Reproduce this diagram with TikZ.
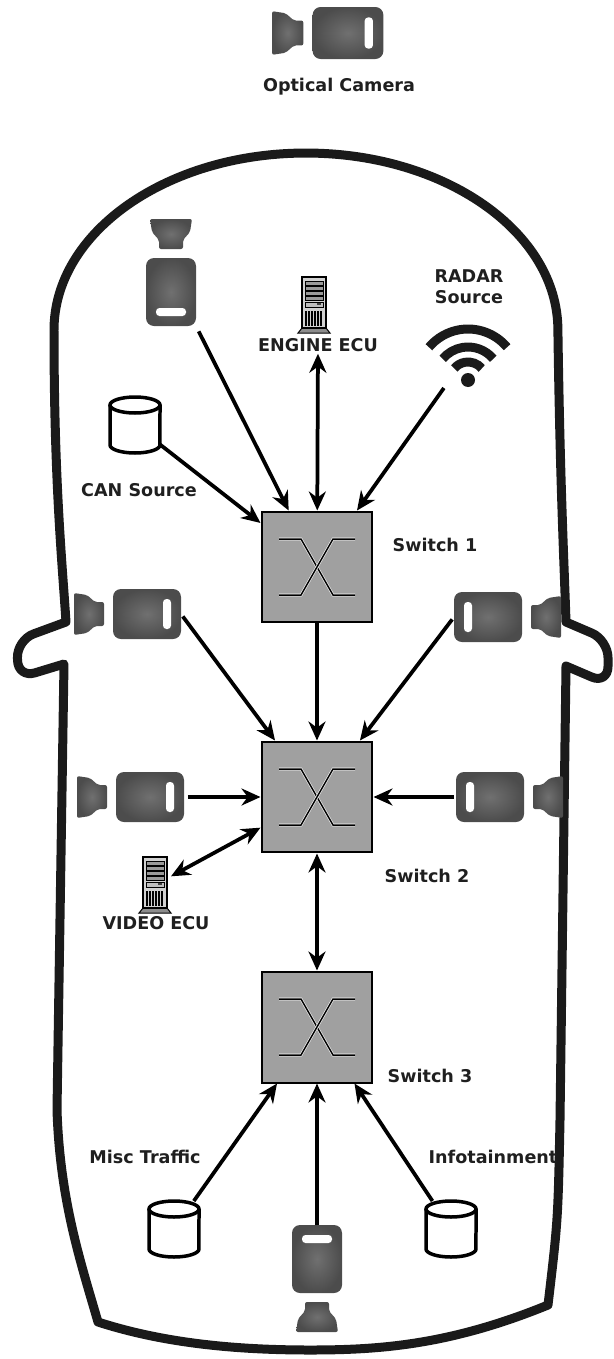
\documentclass[tikz,border=0pt]{standalone}
\usepackage{fontspec}
\setmainfont{DejaVu Sans}
\usetikzlibrary{arrows.meta,positioning}

\definecolor{shellblack}{RGB}{26,26,26}
\definecolor{camdark}{RGB}{76,76,76}
\definecolor{camlight}{RGB}{112,112,112}
\definecolor{swgray}{RGB}{160,160,160}

\tikzset{
  % video camera, lens pointing left
  camera/.pic={
    \shade[inner color=camlight, outer color=camdark, rounded corners=0.04cm]
      (-73,-21) -- (-60,-19) -- (-52,-12) -- (-43,-12) -- (-43,12) -- (-52,12) -- (-60,19) -- (-73,21) -- cycle;
    \shade[inner color=camlight, outer color=camdark, rounded corners=0.16cm] (-34,-25) rectangle (34,25);
    \fill[white, rounded corners=0.07cm] (16,-15) rectangle (24,15);
  },
  % tower server
  server/.pic={
    \draw[fill=black!45, line width=0.02cm] (-12,23) -- (-16,28) -- (16,28) -- (12,23) -- cycle;
    \draw[fill=black!18, line width=0.025cm] (-12,-28) rectangle (12,23);
    \foreach \y in {-24,-19,-14,-9}
      \draw[fill=black!40, line width=0.015cm] (-9,\y) rectangle (9,\y+4);
    \draw[fill=black!25, line width=0.015cm] (-9,-3) rectangle (9,2);
    \fill[black!75] (3,-2) rectangle (7,0);
    \foreach \x in {-8,-5,...,7}
      \draw[line width=0.03cm] (\x,6) -- (\x,21);
  },
  % database drum
  dbase/.pic={
    \draw[line width=0.07cm, fill=white] (-25,-20) -- (-25,20)
      arc[start angle=180, end angle=360, x radius=0.5cm, y radius=0.16cm] -- (25,-20);
    \draw[line width=0.07cm, fill=white] (0,-20) ellipse[x radius=0.5cm, y radius=0.16cm];
  },
  % radio waves
  wifi/.pic={
    \fill[shellblack] (0,0) circle[radius=0.14cm];
    \foreach \r in {0.36,0.66,1.02}
      \draw[shellblack, line width=0.18cm] (40:\r cm) arc[start angle=40, end angle=140, radius=\r cm];
  },
  % crossbar inside a switch
  xsym/.pic={
    \foreach \s in {1,-1}
      \draw[draw=white, double=black, double distance=0.03cm, line width=0.012cm]
        (-38*\s,-28) -- (-16*\s,-28) -- (16*\s,28) -- (38*\s,28);
  }
}

\begin{document}
\begin{tikzpicture}[x=0.02cm, y=-0.02cm,
    sw/.style={draw, line width=0.04cm, fill=swgray, minimum size=2.22cm, inner sep=0},
    lbl/.style={font=\bfseries, text=black!88, inner sep=1pt, align=center},
    hold/.style={inner sep=0, outer sep=0},
    link/.style={line width=0.075cm, ->, >={Stealth[length=0.38cm, width=0.34cm]}},
    shell/.style={line width=0.18cm, draw=shellblack, line join=round}]

    \useasboundingbox (0,0) rectangle (613,1359);

    % car body
    \draw[shell] (54,330) arc[start angle=180, end angle=0, x radius=5.04cm, y radius=3.54cm]
        .. controls (560,480) and (564,560) .. (566,622)
        [rounded corners=0.35cm] -- (608,640) -- (608,684) [sharp corners] -- (566,666)
        -- (560,1120) .. controls (558,1220) .. (548,1305)
        .. controls (450,1345) and (380,1350) .. (310,1350)
        .. controls (230,1350) and (160,1342) .. (98,1322)
        .. controls (80,1260) and (60,1200) .. (57,1110)
        -- (64,664) [rounded corners=0.35cm] -- (18,678) -- (17,640) [sharp corners] -- (66,622)
        .. controls (62,560) and (54,480) .. cycle;

    % optical camera
    \pic[scale=1.04] at (348,33) {camera};
    \node[lbl] (optlbl) at (339,87) {Optical Camera};

    % switches
    \node[sw] (sw1) at (317,567) {};
    \node[sw] (sw2) at (317,797) {};
    \node[sw] (sw3) at (317,1027) {};
    \foreach \s in {sw1,sw2,sw3}
        \pic at (\s) {xsym};
    \node[lbl] (sw1lbl) at (435,545) {Switch 1};
    \node[lbl] (sw2lbl) at (427,876) {Switch 2};
    \node[lbl] (sw3lbl) at (430,1076) {Switch 3};

    % cameras
    \node[hold, minimum width=1.0cm, minimum height=1.36cm] (camTL) at (171,292) {};
    \node[hold, minimum width=1.36cm, minimum height=1.0cm] (camL1) at (147,614) {};
    \node[hold, minimum width=1.36cm, minimum height=1.0cm] (camR1) at (488,617) {};
    \node[hold, minimum width=1.36cm, minimum height=1.0cm] (camL2) at (150,797) {};
    \node[hold, minimum width=1.36cm, minimum height=1.0cm] (camR2) at (490,797) {};
    \node[hold, minimum width=1.0cm, minimum height=1.36cm] (camB) at (317,1259) {};
    \pic[rotate=-90] at (camTL) {camera};
    \pic at (camL1) {camera};
    \pic[rotate=180] at (camR1) {camera};
    \pic at (camL2) {camera};
    \pic[rotate=180] at (camR2) {camera};
    \pic[rotate=90] at (camB) {camera};

    % ECUs
    \node[hold, minimum width=0.64cm, minimum height=1.12cm] (eng) at (314,305) {};
    \pic at (eng) {server};
    \node[lbl] (englbl) at (318,345) {ENGINE ECU};
    \node[hold, minimum width=0.64cm, minimum height=1.12cm] (video) at (155,885) {};
    \pic at (video) {server};
    \node[lbl] (videolbl) at (156,923) {VIDEO ECU};

    % radar
    \node[hold, minimum width=1.74cm, minimum height=1.36cm] (radar) at (468,354) {};
    \pic at (468,380) {wifi};
    \node[lbl] (radarlbl) at (469,287) {RADAR\\Source};

    % traffic sources
    \node[hold, minimum width=1.0cm, minimum height=1.12cm] (can) at (135,425) {};
    \node[hold, minimum width=1.0cm, minimum height=1.12cm] (misc) at (174,1229) {};
    \node[hold, minimum width=1.0cm, minimum height=1.12cm] (info) at (451,1229) {};
    \foreach \d in {can,misc,info}
        \pic at (\d) {dbase};
    \node[lbl] (canlbl) at (139,490) {CAN Source};
    \node[lbl] (misclbl) at (145,1157) {Misc Traffic};
    \node[lbl] (infolbl) at (493,1157) {Infotainment};

    % Links
    \draw[link, shorten <=0.12cm] (camTL.south east) -- (sw1);
    \draw[link, <->] (englbl) -- (sw1);
    \draw[link] (radar) -- (sw1);
    \draw[link] (can) -- (sw1);
    \draw[link] (sw1) -- (sw2);
    \draw[link, shorten <=0.06cm] (camL1.east) -- (sw2);
    \draw[link, shorten <=0.06cm] (camR1.west) -- (sw2);
    \draw[link, shorten <=0.08cm] (camL2) -- (sw2);
    \draw[link, shorten <=0.04cm] (camR2) -- (sw2);
    \draw[link, <->] (video) -- (sw2);
    \draw[link, <->] (sw2) -- (sw3);
    \draw[link] (misc) -- (sw3);
    \draw[link] (camB) -- (sw3);
    \draw[link] (info) -- (sw3);

\end{tikzpicture}
\end{document}
